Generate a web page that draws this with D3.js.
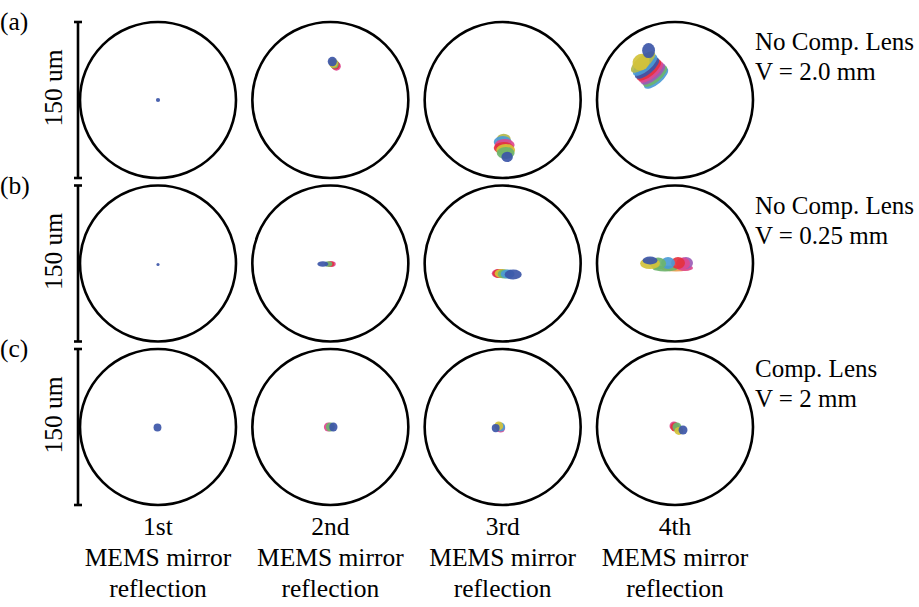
<!DOCTYPE html>
<html>
<head>
<meta charset="utf-8">
<script src="https://cdn.jsdelivr.net/npm/d3@7"></script>
<style>
  html, body { margin: 0; padding: 0; background: #fff; }
  svg { display: block; }
  text { font-family: "Liberation Serif", "Times New Roman", serif; fill: #000; }
</style>
</head>
<body>
<svg id="chart" width="919" height="607"></svg>
<script>
// Reflection order along the columns, optical configuration along the rows
const reflections = ["1st", "2nd", "3rd", "4th"];
const rowTags = ["(a)", "(b)", "(c)"];
const configLines = [
  ["No Comp. Lens", "V = 2.0 mm"],
  ["No Comp. Lens", "V = 0.25 mm"],
  ["Comp. Lens", "V = 2 mm"]
];
const fieldDiameterUm = 150;
const scaleBarLabel = "150 um";
const bottomLines = ["MEMS mirror", "reflection"];

// Wavelength / field colours of the spot footprints
const C = {
  blue: "#3c56a8", yellow: "#d2c23a", olive: "#b3b84c", green: "#6db46c",
  cyan: "#4b9bd6", pink: "#de4890", red: "#e4323e", purple: "#9b5cb6",
  orange: "#ee9a4a"
};

// Spot footprints per panel: [dx, dy, rx, ry, tilt(deg), colour], offsets and radii in um
const spotsA1 = [[0, 0, 2, 2, 0, C.blue]];
const spotsA2 = [
  [5.8, -32.5, 4.3, 4.3, 0, C.pink], [4.8, -33.6, 4.3, 4.3, 0, C.red],
  [3.8, -34.6, 4.3, 4.3, 0, C.green], [2.9, -35.5, 4.3, 4.5, 0, C.yellow],
  [1.9, -37.0, 4.4, 4.6, 0, C.blue]
];
const spotsA3 = [
  [1.0, 37.4, 6.7, 5.0, 0, C.olive], [0.0, 40.3, 8.6, 5.8, 0, C.cyan],
  [1.9, 43.2, 9.6, 5.8, 0, C.pink], [1.0, 46.1, 9.6, 5.8, 0, C.red],
  [2.9, 48.0, 9.1, 5.8, 0, C.yellow], [2.9, 50.9, 8.6, 5.8, 0, C.green],
  [4.3, 54.7, 5.5, 5.0, 0, C.blue]
];
const spotsA4 = [
  [-18.2, -21.1, 14.4, 5.8, -40, C.cyan], [-19.2, -23.0, 14.4, 5.8, -40, C.green],
  [-21.1, -25.0, 14.4, 5.8, -40, C.purple], [-23.0, -26.9, 14.4, 5.8, -40, C.pink],
  [-25.0, -28.8, 14.4, 5.8, -40, C.red], [-26.9, -30.7, 14.4, 5.8, -40, C.blue],
  [-28.8, -33.6, 14.4, 5.8, -40, C.cyan], [-30.7, -36.5, 14.4, 5.8, -40, C.olive],
  [-32.6, -36.5, 8.6, 7.7, -40, C.yellow],
  [-25.4, -47.5, 6.2, 7.2, 0, C.blue]
];
const spotsB1 = [[0, 1, 1.5, 1.5, 0, C.blue]];
const spotsB2 = [
  [1.4, 0.5, 3.8, 2.7, 0, C.pink], [0.0, 0.5, 3.8, 2.7, 0, C.red],
  [-1.9, 0.5, 3.8, 2.7, 0, C.green], [-7.2, 0.5, 5.3, 2.6, 0, C.blue]
];
const spotsB3 = [
  [-3.8, 9.6, 6.7, 4.3, 0, C.pink], [-2.9, 9.6, 6.7, 4.3, 0, C.red],
  [-1.0, 9.6, 6.7, 4.3, 0, C.yellow], [1.9, 10.1, 6.7, 4.3, 0, C.green],
  [4.8, 10.1, 6.7, 4.3, 0, C.cyan], [10.1, 10.6, 8.2, 4.8, 0, C.blue]
];
const spotsB4 = [
  [1.0, 4.8, 14.4, 2.9, 0, C.orange], [-9.6, 4.8, 12.0, 2.9, 0, C.green],
  [9.6, 4.3, 7.7, 2.9, 0, C.pink],
  [10.6, -0.5, 6.7, 5.8, 0, C.purple], [7.7, 0.0, 6.7, 5.8, 0, C.pink],
  [2.9, -0.5, 6.7, 5.8, 0, C.red], [-6.7, -0.5, 6.7, 5.8, 0, C.cyan],
  [-16.3, 0.0, 7.7, 5.8, 0, C.green], [-24.0, 0.0, 9.6, 5.3, 0, C.yellow],
  [-24.0, -2.9, 7.2, 3.8, 0, C.blue]
];
const spotsC1 = [[-0.5, 0.5, 3.8, 3.8, 0, C.blue]];
const spotsC2 = [
  [-1.9, 0, 4.3, 4.3, 0, C.pink], [0.0, 0, 4.3, 4.3, 0, C.green],
  [2.9, 0, 4.0, 4.3, 0, C.blue]
];
const spotsC3 = [
  [-1.9, 1.0, 4.3, 4.3, 0, C.pink], [-1.9, 0.0, 4.3, 4.3, 0, C.cyan],
  [-3.8, -1.0, 4.3, 4.3, 0, C.yellow], [-6.7, 1.0, 3.8, 4.0, 0, C.blue]
];
const spotsC4 = [
  [-1.0, -1.0, 4.3, 4.3, 0, C.pink], [0.0, 0.0, 4.3, 4.3, 0, C.red],
  [1.9, 0.0, 4.3, 4.3, 0, C.green], [3.8, 3.8, 4.3, 3.8, 0, C.yellow],
  [7.7, 2.9, 4.3, 4.3, 0, C.blue]
];
const panelSpots = [
  [spotsA1, spotsA2, spotsA3, spotsA4],
  [spotsB1, spotsB2, spotsB3, spotsB4],
  [spotsC1, spotsC2, spotsC3, spotsC4]
];

const svg = d3.select("#chart");
const font = 25.5;

const xCol = d3.scalePoint().domain(reflections).range([158, 675]);
const yRow = d3.scalePoint().domain(rowTags).range([100, 427]);
const um = d3.scaleLinear().domain([0, fieldDiameterUm / 2]).range([0, 78]);
const R = um(fieldDiameterUm / 2);

rowTags.forEach((tag, ri) => {
  const cy = yRow(tag);

  // row tag
  svg.append("text").attr("x", 0).attr("y", cy - 70)
    .attr("font-size", font).text(tag);

  // scale bar spanning the field diameter
  const bx = xCol(reflections[0]) - R - 2;
  const bar = svg.append("g").attr("stroke", "#000").attr("stroke-width", 2.6);
  bar.append("line").attr("x1", bx).attr("x2", bx).attr("y1", cy - R).attr("y2", cy + R);
  bar.append("line").attr("x1", bx - 4).attr("x2", bx + 4).attr("y1", cy - R).attr("y2", cy - R);
  bar.append("line").attr("x1", bx - 4).attr("x2", bx + 4).attr("y1", cy + R).attr("y2", cy + R);
  svg.append("text")
    .attr("transform", `translate(${bx - 16},${cy - 12}) rotate(-90)`)
    .attr("text-anchor", "middle").attr("font-size", font).text(scaleBarLabel);

  // configuration notes on the right
  configLines[ri].forEach((line, li) => {
    svg.append("text").attr("x", 755).attr("y", cy - 50 + li * 30)
      .attr("font-size", 25).text(line);
  });

  reflections.forEach((ref, ci) => {
    const cx = xCol(ref);
    const g = svg.append("g").attr("transform", `translate(${cx},${cy})`);
    g.selectAll("ellipse.spot").data(panelSpots[ri][ci]).join("ellipse")
      .attr("class", "spot")
      .attr("transform", d => `translate(${um(d[0])},${um(d[1])}) rotate(${d[4]})`)
      .attr("rx", d => um(d[2])).attr("ry", d => um(d[3]))
      .attr("fill", d => d[5]).attr("fill-opacity", 0.92);
    g.append("circle").attr("r", R).attr("fill", "none")
      .attr("stroke", "#000").attr("stroke-width", 2.6);
  });
});

// column captions
reflections.forEach(ref => {
  const lines = [ref, ...bottomLines];
  lines.forEach((line, li) => {
    svg.append("text").attr("x", xCol(ref)).attr("y", 535 + li * 31)
      .attr("text-anchor", "middle").attr("font-size", font).text(line);
  });
});
</script>
</body>
</html>
